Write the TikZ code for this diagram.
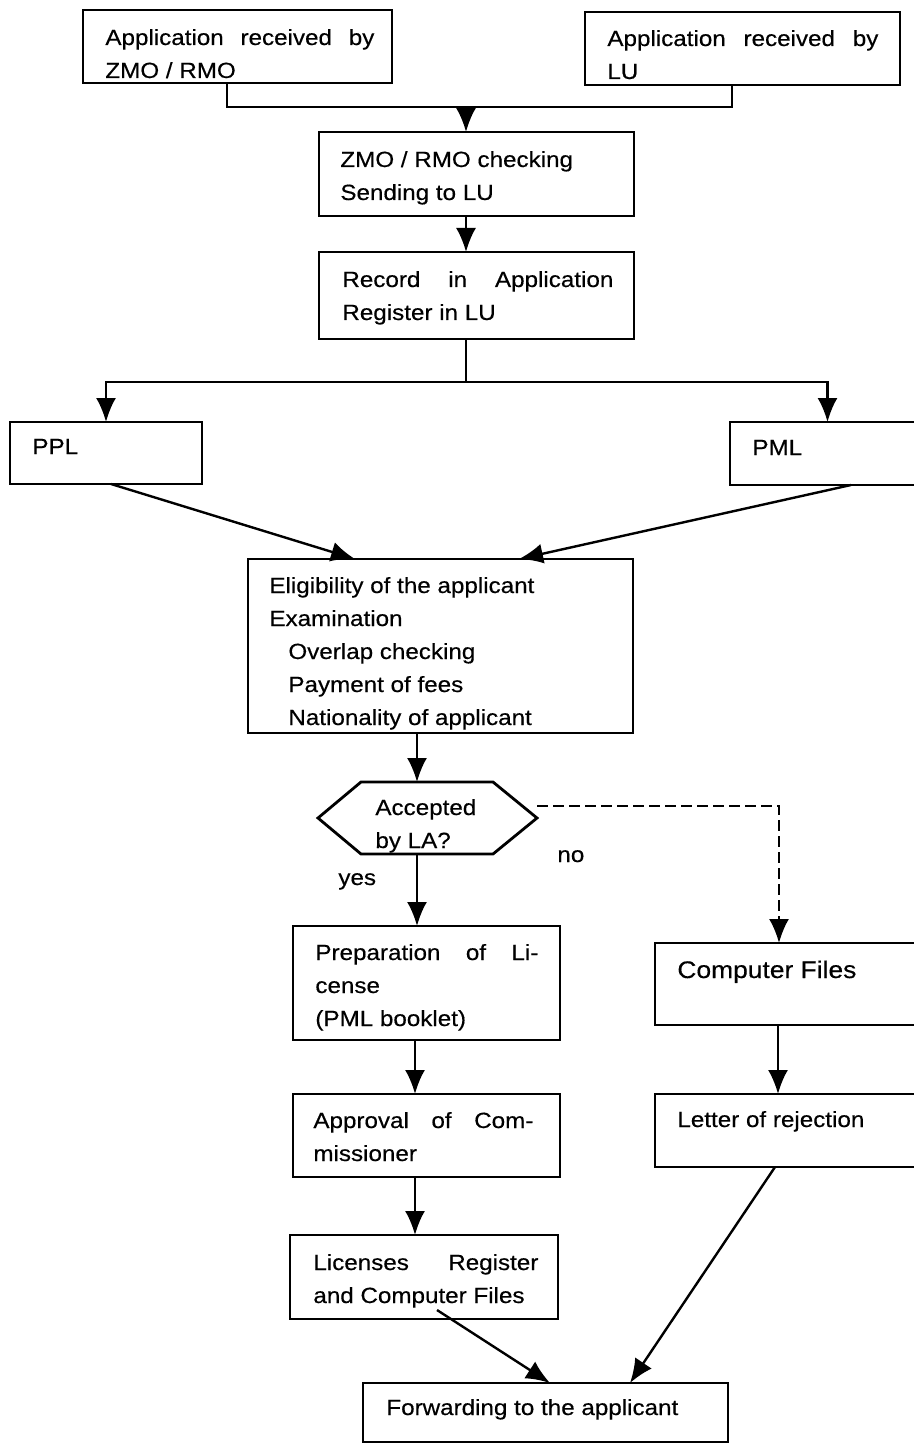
\documentclass[tikz,border=0pt]{standalone}
\usepackage{fontspec}
\setmainfont{Liberation Sans}[FakeStretch=1.1,FakeBold=0.4]
\usetikzlibrary{arrows.meta,fit,calc}
% one justified line of a given width, and one plain line
\newcommand{\jl}[2]{\hbox to #1{#2}}
\newcommand{\pl}[1]{\hbox{#1}}
\begin{document}
\begin{tikzpicture}[x=0.5pt,y=-0.5pt,
  box/.style={draw, line width=1.4pt, inner sep=0pt, outer sep=0pt},
  hexframe/.style={inner sep=0pt, outer sep=0pt},
  txt/.style={anchor=base west, inner sep=0pt, font=\fontsize{11}{16.5}\selectfont},
  bigtxt/.style={anchor=base west, inner sep=0pt, font=\fontsize{12}{18}\selectfont},
  line/.style={line width=1.2pt},
  arr/.style={line width=1.2pt, -{Latex[length=12pt,width=10pt]}},
  noarr/.style={line width=1.2pt, dash pattern=on 5.5pt off 2.5pt, -{Latex[length=12pt,width=10pt]}}]
\useasboundingbox (0,0) rectangle (914,1444);
\clip (0,0) rectangle (914,1444);

% boxes
\node[box, fit={(83,10)(392,83)}] (a1) {};
\node[box, fit={(585,12)(900,85)}] (a2) {};
\node[box, fit={(319,132)(634,216)}] (b) {};
\node[box, fit={(319,252)(634,339)}] (c) {};
\node[box, fit={(10,422)(202,484)}] (ppl) {};
\node[box, fit={(730,422)(925,485)}] (pml) {};
\node[box, fit={(248,559)(633,733)}] (elig) {};
\node[hexframe, fit={(318,782)(537,854)}] (hex) {};
\draw[line width=1.4pt] (hex.west) -- ([xshift=21.5pt]hex.north west) -- ([xshift=-22pt]hex.north east)
  -- (hex.east) -- ([xshift=-22pt]hex.south east) -- ([xshift=21.5pt]hex.south west) -- cycle;
\node[box, fit={(293,926)(560,1040)}] (prep) {};
\node[box, fit={(655,943)(925,1025)}] (cf) {};
\node[box, fit={(293,1094)(560,1177)}] (appr) {};
\node[box, fit={(655,1094)(925,1167)}] (lor) {};
\node[box, fit={(290,1235)(558,1319)}] (lic) {};
\node[box, fit={(363,1383)(728,1442)}] (fwd) {};

% texts
\node[txt] (a1t) at (105,45) {\vtop{\jl{134.5pt}{Application\hfill received\hfill by}\pl{ZMO / RMO}}};
\node[txt] (a2t) at (607,46) {\vtop{\jl{135.5pt}{Application\hfill received\hfill by}\pl{LU}}};
\node[txt] (bt) at (340,167) {\vtop{\pl{ZMO / RMO checking}\pl{Sending to LU}}};
\node[txt] (ct) at (342,287) {\vtop{\jl{135.5pt}{Record\hfill in\hfill Application}\pl{Register in LU}}};
\node[txt] (pplt) at (32,454) {PPL};
\node[txt] (pmlt) at (752,455) {PML};
\node[txt] (eligt) at (269,593) {\vtop{\pl{Eligibility of the applicant}\pl{Examination}%
  \pl{\hskip9.5pt Overlap checking}\pl{\hskip9.5pt Payment of fees}\pl{\hskip9.5pt Nationality of applicant}}};
\node[txt] (hext) at (375,815) {\vtop{\pl{Accepted}\pl{by LA?}}};
\node[txt] (no) at (557,862) {no};
\node[txt] (yes) at (338,885) {yes};
\node[txt] (prept) at (315,960) {\vtop{\jl{111.5pt}{Preparation\hfill of\hfill Li-}\pl{cense}\pl{(PML booklet)}}};
\node[bigtxt] (cft) at (677,978) {Computer Files};
\node[txt] (apprt) at (313,1128) {\vtop{\jl{110pt}{Approval\hfill of\hfill Com-}\pl{missioner}}};
\node[txt] (lort) at (677,1127) {Letter of rejection};
\node[txt] (lict) at (313,1270) {\vtop{\jl{112.5pt}{Licenses\hfill Register}\pl{and Computer Files}}};
\node[txt] (fwdt) at (386,1415) {Forwarding to the applicant};

% connectors
\draw[line] ([xshift=-5.25pt]a1.south) -- ++(0,24) coordinate (j1) -| ([xshift=-5.25pt]a2.south);
\coordinate (bin) at ([xshift=-5.25pt]b.north);
\draw[arr] (bin |- j1) -- (bin);
\draw[arr] ([xshift=-5.25pt]b.south) -- ([xshift=-5.25pt]c.north);
\draw[line] ([xshift=-5.25pt]c.south) -- ++(0,43) coordinate (j2);
\draw[arr] (j2) -| (ppl.north);
\draw[arr] (j2) -| (pml.north);
\draw[arr] ([xshift=2.5pt]ppl.south) -- ([xshift=-42.75pt]elig.north);
\draw[arr] ([xshift=11.75pt]pml.south) -- ([xshift=39.25pt]elig.north);
\draw[arr] ([xshift=-11.75pt]elig.south) -- ([xshift=-5.25pt]hex.north);
\draw[noarr] ([yshift=6pt]hex.east) -| ([xshift=-5.5pt]cf.north);
\draw[arr] ([xshift=-5.25pt]hex.south) -- ([xshift=-4.75pt]prep.north);
\draw[arr] ([xshift=-5.75pt]prep.south) -- ([xshift=-5.75pt]appr.north);
\draw[arr] ([xshift=-6pt]cf.south) -- ([xshift=-6pt]lor.north);
\draw[arr] ([xshift=-5.75pt]appr.south) -- ([xshift=-4.5pt]lic.north);
\draw[arr] ([xshift=6.5pt,yshift=4.5pt]lic.south) -- ([xshift=2.25pt]fwd.north);
\draw[arr] ([xshift=-7.5pt]lor.south) -- ([xshift=42.25pt]fwd.north);
\end{tikzpicture}
\end{document}
